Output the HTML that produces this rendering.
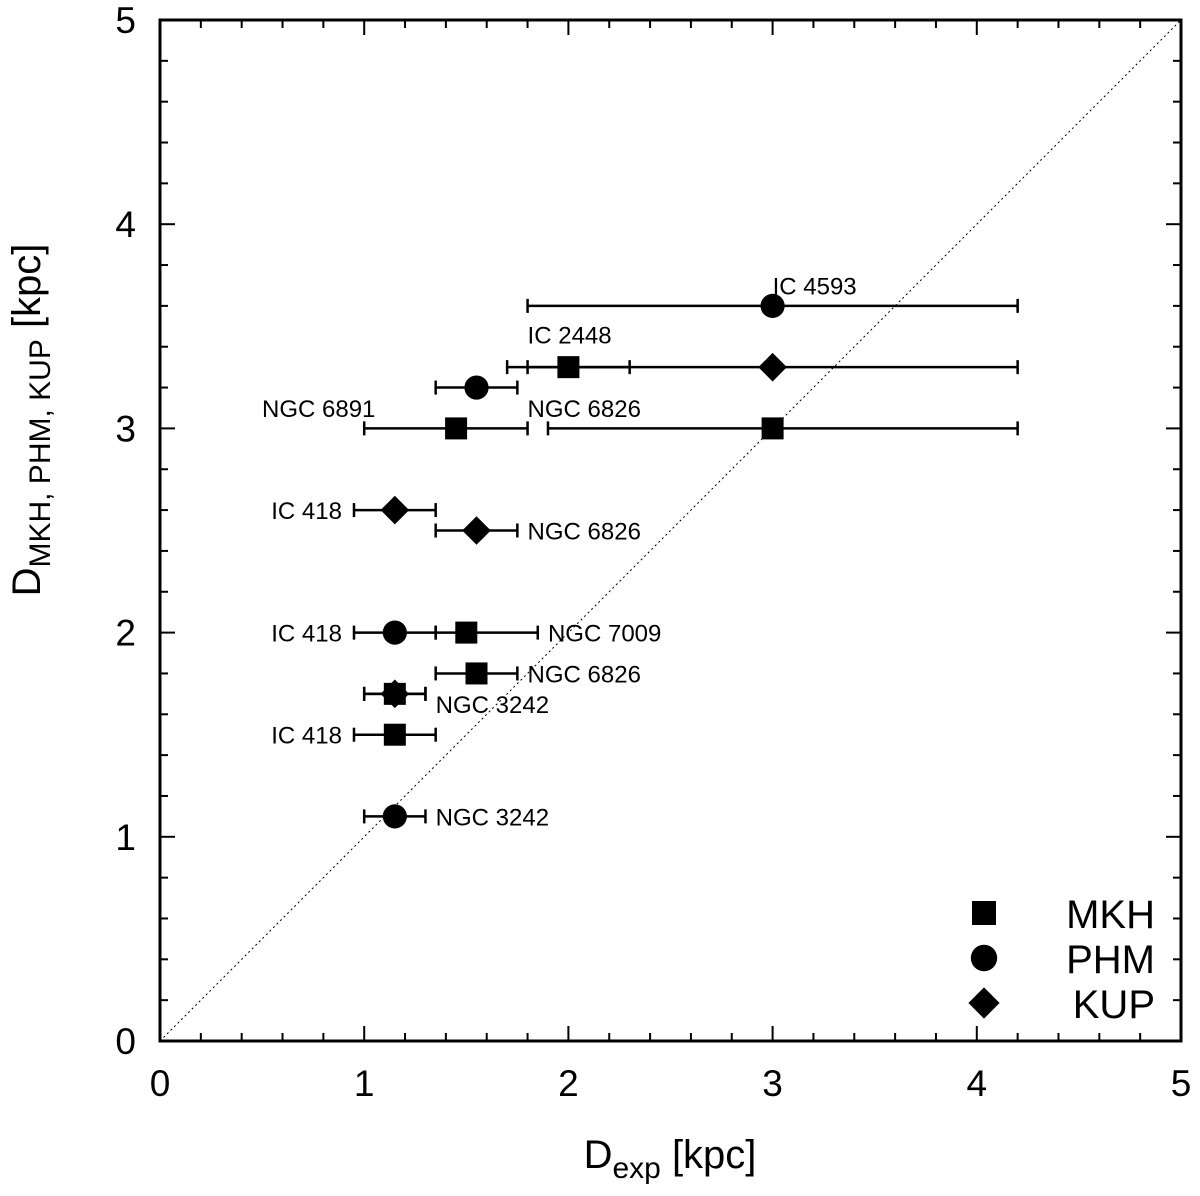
<!DOCTYPE html>
<html><head><meta charset="utf-8"><style>
body{margin:0;background:#fff}
svg text{font-family:"Liberation Sans",sans-serif;fill:#000}
</style></head><body>
<svg id="chart" width="1200" height="1191" xmlns="http://www.w3.org/2000/svg"></svg>
<script>
const xTicks=[0,1,2,3,4,5];
const yTicks=[0,1,2,3,4,5];
const series=['MKH','PHM','KUP'];
const ptSeries=['PHM','MKH','KUP','PHM','MKH','MKH','KUP','KUP','PHM','MKH','MKH','MKH','KUP','MKH','PHM'];
const ptX=[3,2,3,1.55,1.45,3,1.15,1.55,1.15,1.5,1.55,1.15,1.15,1.15,1.15];
const ptY=[3.6,3.3,3.3,3.2,3.0,3.0,2.6,2.5,2.0,2.0,1.8,1.7,1.7,1.5,1.1];
const errLo=[1.8,1.7,1.8,1.35,1.0,1.9,0.95,1.35,0.95,1.35,1.35,1.0,1.0,0.95,1.0];
const errHi=[4.2,2.3,4.2,1.75,1.8,4.2,1.35,1.75,1.35,1.85,1.75,1.3,1.3,1.35,1.3];
const labelText=['IC 4593','IC 2448','NGC 6891','NGC 6826','IC 418','NGC 6826','IC 418','NGC 7009','NGC 6826','NGC 3242','IC 418','NGC 3242'];
const labelX=[3.0,1.8,0.5,1.8,0.5,1.8,0.5,1.9,1.8,1.35,0.5,1.35];
const labelY=[3.7,3.46,3.1,3.1,2.6,2.5,2.0,2.0,1.8,1.65,1.5,1.1];
const NS='http://www.w3.org/2000/svg';
const svg=document.getElementById('chart');
const L=160,R=1181,T=20,B=1041;
const sx=v=>L+(R-L)*v/5, sy=v=>B-(B-T)*v/5;
function mk(t,a,p){const e=document.createElementNS(NS,t);for(const k in a)e.setAttribute(k,a[k]);(p||svg).appendChild(e);return e;}
const diag=mk('line',{x1:sx(0),y1:sy(0),x2:sx(5),y2:sy(5),stroke:'#000','stroke-width':1,'stroke-dasharray':'2,3'});


for(let i=0;i<=25;i++){const v=i/5,len=(i%5==0)?15:8;
 const g=mk('g',{stroke:'#000','stroke-width':2});
 
 
 mk('line',{x1:sx(v),y1:B,x2:sx(v),y2:B-len},g);mk('line',{x1:sx(v),y1:T,x2:sx(v),y2:T+len},g);
 mk('line',{x1:L,y1:sy(v),x2:L+len,y2:sy(v)},g);mk('line',{x1:R,y1:sy(v),x2:R-len,y2:sy(v)},g);}
xTicks.forEach(v=>{const t=mk('text',{x:sx(v),y:1096,'font-size':37,'text-anchor':'middle'});t.textContent=v;
 
 });
yTicks.forEach(v=>{const t=mk('text',{x:136,y:sy(v)+13,'font-size':37,'text-anchor':'end'});t.textContent=v;
 
 });
const frame=mk('rect',{x:L,y:T,width:R-L,height:B-T,fill:'none',stroke:'#000','stroke-width':3});


function marker(s,x,y,g,r){
 if(s==='MKH')return mk('rect',{x:x-r,y:y-r,width:2*r,height:2*r,fill:'#000'},g);
 if(s==='PHM')return mk('circle',{cx:x,cy:y,r:r*1.1,fill:'#000'},g);
 return mk('polygon',{points:`${x},${y-r*1.3} ${x+r*1.3},${y} ${x},${y+r*1.3} ${x-r*1.3},${y}`,fill:'#000'},g);}
ptX.forEach((x,i)=>{const g=mk('g',{stroke:'#000','stroke-width':2.5});
 
 
 const y=sy(ptY[i]),a=sx(errLo[i]),b=sx(errHi[i]);
 mk('line',{x1:a,y1:y,x2:b,y2:y},g);mk('line',{x1:a,y1:y-7,x2:a,y2:y+7},g);mk('line',{x1:b,y1:y-7,x2:b,y2:y+7},g);
 const m=marker(ptSeries[i],sx(x),y,g,11);m.setAttribute('stroke','none');});
labelText.forEach((s,i)=>{const t=mk('text',{x:sx(labelX[i]),y:sy(labelY[i])+9,'font-size':24});t.textContent=s;
 if(labelX[i]===0.5&&s.startsWith('IC')){t.setAttribute('x',sx(0.95)-12);t.setAttribute('text-anchor','end');}
 else if(labelX[i]===0.5){t.setAttribute('x',262);}
 
 });
series.forEach((s,i)=>{const y=913+i*45;const g=mk('g',{});
 
 
 marker(s,984,y,g,12);const t=mk('text',{x:1155,y:y+15,'font-size':40,'text-anchor':'end'},g);t.textContent=s;});
const xt=mk('text',{x:670,y:1168,'font-size':40,'text-anchor':'middle'});
xt.innerHTML='D<tspan font-size="30" dy="10">exp</tspan><tspan dy="-10"> [kpc]</tspan>';


const yt=mk('text',{x:0,y:0,'font-size':40,'text-anchor':'middle',transform:'translate(40,420) rotate(-90)'});
yt.innerHTML='D<tspan font-size="30" dy="10">MKH, PHM, KUP</tspan><tspan dy="-10"> [kpc]</tspan>';


</script>
</body></html>
